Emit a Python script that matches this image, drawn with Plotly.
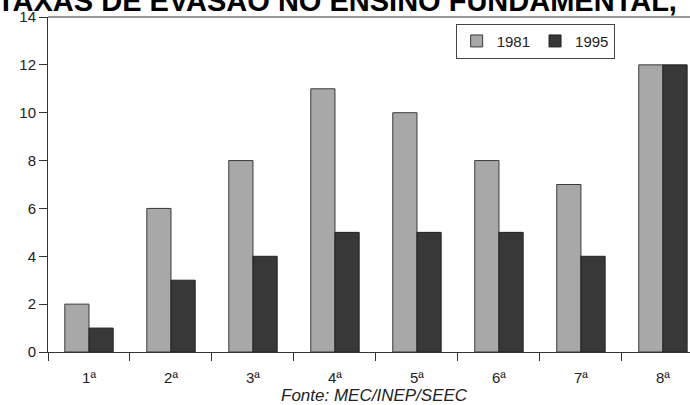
import plotly.graph_objects as go

series_names = ["1981", "1995"]
grades = ["1ª", "2ª", "3ª", "4ª", "5ª", "6ª", "7ª", "8ª"]
values_1981 = [2, 6, 8, 11, 10, 8, 7, 12]
values_1995 = [1, 3, 4, 5, 5, 5, 4, 12]
title_text = "TAXAS DE EVASÃO NO ENSINO FUNDAMENTAL,"
source_text = "Fonte: MEC/INEP/SEEC"

fig = go.Figure()
fig.add_trace(go.Bar(
    name=series_names[0], x=grades, y=values_1981,
    marker=dict(color="#a8a8a8", line=dict(color="#3a3a3a", width=1)),
))
fig.add_trace(go.Bar(
    name=series_names[1], x=grades, y=values_1995,
    marker=dict(color="#383838", line=dict(color="#222222", width=1)),
))

fig.update_layout(
    width=690, height=405,
    margin=dict(l=48, r=0, t=17, b=53),
    paper_bgcolor="white", plot_bgcolor="white",
    barmode="group", bargap=0.41, bargroupgap=0,
    font=dict(family="Liberation Sans, Arial, sans-serif", size=15, color="#222222"),
    showlegend=True,
    legend=dict(
        orientation="h", x=0.635, y=0.98, xanchor="left", yanchor="top",
        bordercolor="#444444", borderwidth=1, bgcolor="white",
        font=dict(size=15, color="#222222"),
        itemwidth=30, traceorder="normal",
    ),
    xaxis=dict(
        type="category", range=[-0.5, 7.33],
        showline=True, linecolor="#333333", linewidth=1,
        ticks="outside", ticklen=8, tickcolor="#333333", tickson="boundaries",
        ticklabelstandoff=12,
        showgrid=False, tickfont=dict(size=15),
    ),
    yaxis=dict(
        range=[0, 14], dtick=2,
        showline=True, linecolor="#333333", linewidth=1,
        ticks="outside", ticklen=8, tickcolor="#333333",
        showgrid=False, zeroline=False, tickfont=dict(size=15),
    ),
    shapes=[dict(type="line", xref="paper", yref="paper", x0=0, x1=1, y0=1, y1=1,
                 line=dict(color="#333333", width=1))],
    annotations=[
        dict(text="<b>" + title_text + "</b>", xref="paper", yref="paper",
             x=0, y=1, xanchor="left", yanchor="bottom", xshift=-53, yshift=-2,
             showarrow=False, font=dict(size=29, color="#000000")),
        dict(text="<i>" + source_text + "</i>", xref="paper", yref="paper",
             x=0.509, y=0, xanchor="center", yanchor="top", yshift=-32,
             showarrow=False, font=dict(size=17, color="#222222")),
    ],
)

fig.write_html("out.html")
